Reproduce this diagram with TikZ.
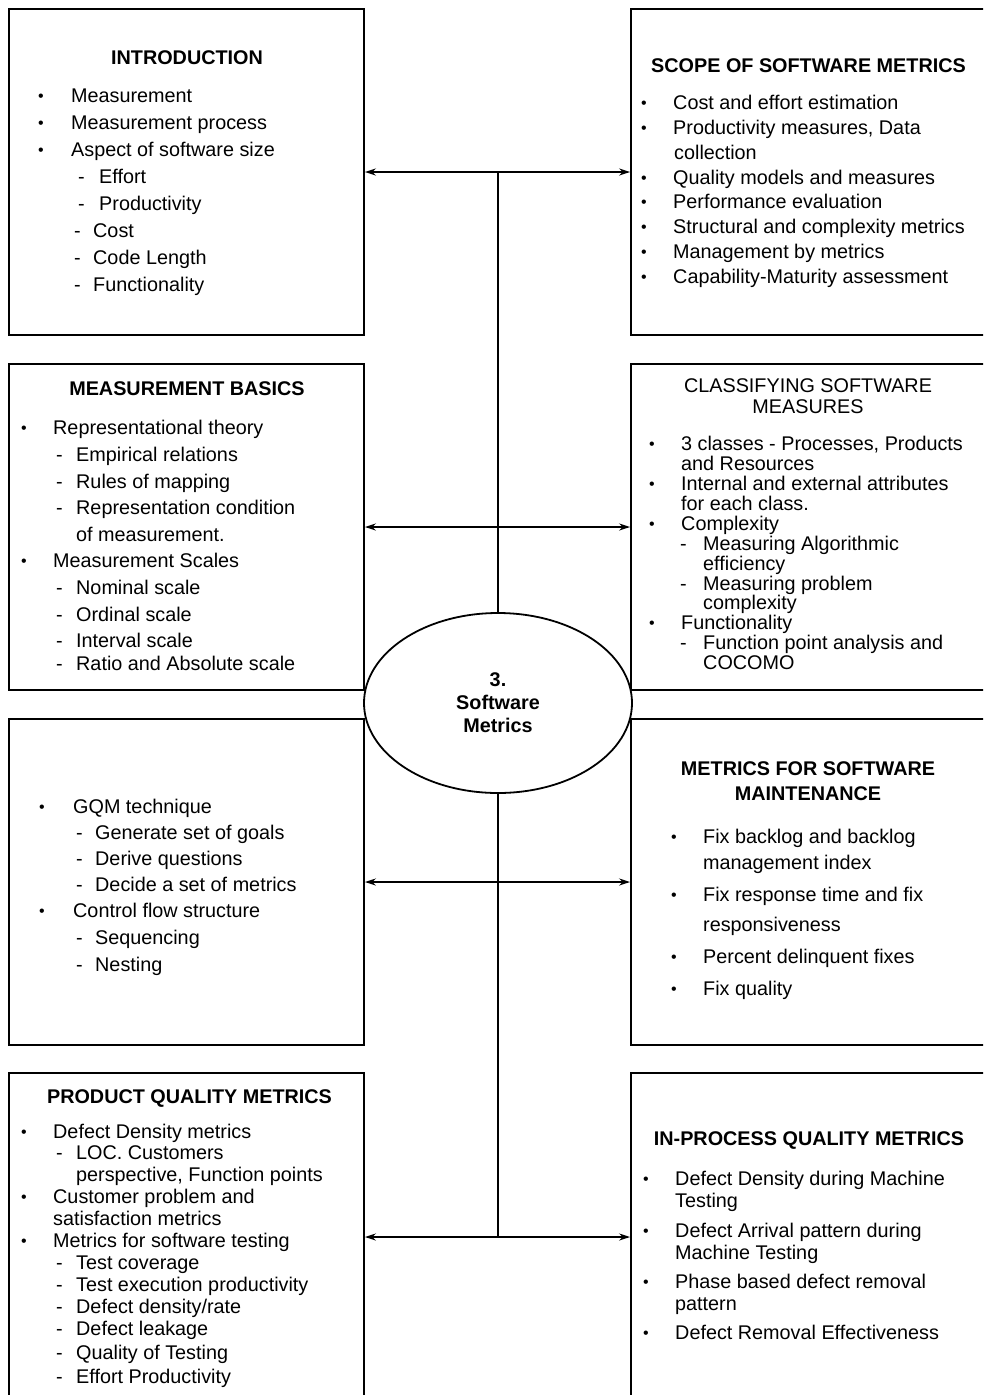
\documentclass[tikz,border=0pt]{standalone}
\usepackage{fontspec}
\setmainfont{Liberation Sans}
\usetikzlibrary{arrows.meta,shapes.geometric}

\newcounter{tl}
\tikzset{
  box/.style={draw, line width=1.8pt, rectangle, inner sep=0pt},
  txt/.style={anchor=base west, inner sep=0pt, font=\fontsize{19.8}{22}\selectfont},
  ttl/.style={anchor=base, inner sep=0pt, font=\fontsize{19.8}{22}\selectfont\bfseries},
  ttlr/.style={anchor=base, inner sep=0pt, font=\fontsize{19.8}{22}\selectfont},
  link/.style={line width=2pt, {Stealth[length=11pt,width=7pt]}-{Stealth[length=11pt,width=7pt]}},
  spine/.style={line width=2pt},
}
% list rows: marker x, text x, line centre y, text
\newcommand\bl[4]{\stepcounter{tl}\edef\tn{\arabic{tl}}%
  \node[txt] (m\tn) at (#1,#3+7) {\raisebox{0.5pt}{\fontsize{16}{16}\selectfont\textbullet}};
  \node[txt] (t\tn) at (#2,#3+7) {#4};}
\newcommand\dl[4]{\stepcounter{tl}\edef\tn{\arabic{tl}}%
  \node[txt] (m\tn) at (#1,#3+7) {-};
  \node[txt] (t\tn) at (#2,#3+7) {#4};}
\newcommand\cl[3]{\stepcounter{tl}\edef\tn{\arabic{tl}}%
  \node[txt] (t\tn) at (#1,#2+7) {#3};}

\begin{document}
\begin{tikzpicture}[x=1pt,y=-1pt]
\useasboundingbox (0,0) rectangle (983,1395);
\clip (0,0) rectangle (983,1395);

% boxes
\node[box, minimum width=355pt, minimum height=326pt] (intro) at (186.5,172) {};
\node[box, minimum width=369pt, minimum height=326pt] (scope) at (815.5,172) {};
\node[box, minimum width=355pt, minimum height=326pt] (basics) at (186.5,527) {};
\node[box, minimum width=369pt, minimum height=326pt] (classify) at (815.5,527) {};
\node[box, minimum width=355pt, minimum height=326pt] (gqm) at (186.5,882) {};
\node[box, minimum width=369pt, minimum height=326pt] (maint) at (815.5,882) {};
\node[box, minimum width=355pt, minimum height=328pt] (product) at (186.5,1237) {};
\node[box, minimum width=369pt, minimum height=328pt] (inproc) at (815.5,1237) {};

% centre
\node[draw, ellipse, line width=1.8pt, fill=white, minimum width=268pt, minimum height=180pt,
      align=center, inner sep=0pt, font=\fontsize{19.8}{23}\selectfont\bfseries] (core) at (498,703)
      {3.\\Software\\Metrics};

% connectors
\coordinate (top) at (498,172);
\coordinate (bot) at (498,1237);
\draw[spine] (top) -- (core);
\draw[spine] (core) -- (bot);
\draw[link] (intro) -- (scope);
\draw[link] (basics) -- (classify);
\draw[link] (gqm) -- (maint);
\draw[link] (product) -- (inproc);

% INTRODUCTION
\node[ttl] (h1) at (187,64) {INTRODUCTION};
\bl{38}{71}{95}{Measurement}
\bl{38}{71}{122}{Measurement process}
\bl{38}{71}{149}{Aspect of software size}
\dl{78}{99}{176}{Effort}
\dl{78}{99}{203}{Productivity}
\dl{74}{93}{230}{Cost}
\dl{74}{93}{257}{Code Length}
\dl{74}{93}{284}{Functionality}

% SCOPE OF SOFTWARE METRICS
\node[ttl] (h2) at (808.5,72) {SCOPE OF SOFTWARE METRICS};
\bl{641}{673}{102}{Cost and effort estimation}
\bl{641}{673}{127}{Productivity measures, Data}
\cl{674}{152}{collection}
\bl{641}{673}{177}{Quality models and measures}
\bl{641}{673}{201}{Performance evaluation}
\bl{641}{673}{226}{Structural and complexity metrics}
\bl{641}{673}{251}{Management by metrics}
\bl{641}{673}{276}{Capability-Maturity assessment}

% MEASUREMENT BASICS
\node[ttl] (h3) at (187,395) {MEASUREMENT BASICS};
\bl{21}{53}{427}{Representational theory}
\dl{56}{76}{454}{Empirical relations}
\dl{56}{76}{481}{Rules of mapping}
\dl{56}{76}{507}{Representation condition}
\cl{76}{534}{of measurement.}
\bl{21}{53}{560}{Measurement Scales}
\dl{56}{76}{587}{Nominal scale}
\dl{56}{76}{614}{Ordinal scale}
\dl{56}{76}{640}{Interval scale}
\dl{56}{76}{663}{Ratio and Absolute scale}

% CLASSIFYING SOFTWARE MEASURES
\node[ttlr] (h4a) at (808,392) {CLASSIFYING SOFTWARE};
\node[ttlr] (h4b) at (808,413) {MEASURES};
\bl{649}{681}{443}{3 classes - Processes, Products}
\cl{681}{463}{and Resources}
\bl{649}{681}{483}{Internal and external attributes}
\cl{681}{503}{for each class.}
\bl{649}{681}{523}{Complexity}
\dl{680}{703}{543}{Measuring Algorithmic}
\cl{703}{563}{efficiency}
\dl{680}{703}{583}{Measuring problem}
\cl{703}{602}{complexity}
\bl{649}{681}{622}{Functionality}
\dl{680}{703}{642}{Function point analysis and}
\cl{703}{662}{COCOMO}

% GQM
\bl{39}{73}{806}{GQM technique}
\dl{76}{95}{832}{Generate set of goals}
\dl{76}{95}{858}{Derive questions}
\dl{76}{95}{884}{Decide a set of metrics}
\bl{39}{73}{910}{Control flow structure}
\dl{76}{95}{937}{Sequencing}
\dl{76}{95}{964}{Nesting}

% METRICS FOR SOFTWARE MAINTENANCE
\node[ttl] (h5a) at (808,775) {METRICS FOR SOFTWARE};
\node[ttl] (h5b) at (808,800) {MAINTENANCE};
\bl{671}{703}{836}{Fix backlog and backlog}
\cl{703}{862}{management index}
\bl{671}{703}{894}{Fix response time and fix}
\cl{703}{924}{responsiveness}
\bl{671}{703}{956}{Percent delinquent fixes}
\bl{671}{703}{988}{Fix quality}

% PRODUCT QUALITY METRICS
\node[ttl] (h6) at (189.5,1103) {PRODUCT QUALITY METRICS};
\bl{21}{53}{1131}{Defect Density metrics}
\dl{56}{76}{1152}{LOC. Customers}
\cl{76}{1174}{perspective, Function points}
\bl{21}{53}{1196}{Customer problem and}
\cl{53}{1218}{satisfaction metrics}
\bl{21}{53}{1240}{Metrics for software testing}
\dl{56}{76}{1262}{Test coverage}
\dl{56}{76}{1284}{Test execution productivity}
\dl{56}{76}{1306}{Defect density/rate}
\dl{56}{76}{1328}{Defect leakage}
\dl{56}{76}{1352}{Quality of Testing}
\dl{56}{76}{1376}{Effort Productivity}

% IN-PROCESS QUALITY METRICS
\node[ttl] (h7) at (809,1145) {IN-PROCESS QUALITY METRICS};
\bl{643}{675}{1178}{Defect Density during Machine}
\cl{675}{1200}{Testing}
\bl{643}{675}{1230}{Defect Arrival pattern during}
\cl{675}{1252}{Machine Testing}
\bl{643}{675}{1281}{Phase based defect removal}
\cl{675}{1303}{pattern}
\bl{643}{675}{1332}{Defect Removal Effectiveness}

\end{tikzpicture}
\end{document}
